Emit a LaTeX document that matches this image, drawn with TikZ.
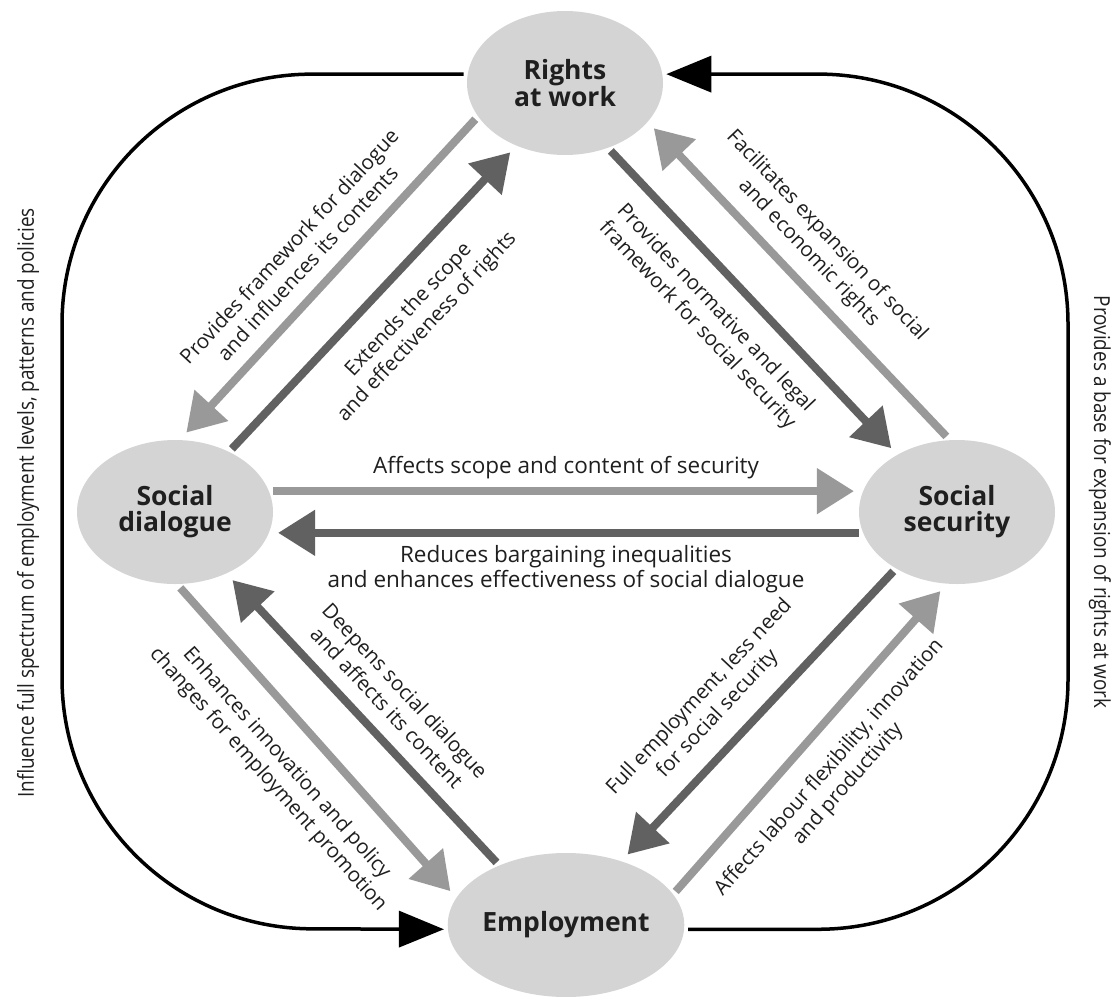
\documentclass[tikz,border=0pt]{standalone}
\usepackage{fontspec}
\setmainfont{Open Sans}
\newfontfamily\narrowsans[FakeStretch=0.86]{Open Sans}
\usetikzlibrary{arrows.meta, shapes.geometric, positioning}

\definecolor{bubblegray}{gray}{0.83}
\definecolor{arrowlight}{gray}{0.6}
\definecolor{arrowdark}{gray}{0.38}
\definecolor{inkgray}{gray}{0.12}

\begin{document}
\begin{tikzpicture}[
                x = 1pt, y = -1pt, % page units, y runs downwards
                > = {Triangle[length=37pt, width=44pt]}, % arrow head style
                shorten > = 5pt,
                line width = 8pt, % arrow shafts
                font = \fontsize{20.5}{25}\selectfont
                ]
                \tikzstyle{bubble}=[
                    ellipse,
                    fill = bubblegray,
                    minimum width = 196pt,
                    minimum height = 144pt,
                    inner sep = 0pt,
                    align = center,
                    text = inkgray,
                    font = \fontsize{26.5}{26}\selectfont\bfseries
                ]
                \tikzstyle{light}=[->, draw = arrowlight]
                \tikzstyle{dark}=[->, draw = arrowdark]
                \tikzstyle{lab}=[sloped, align=center, inner sep=0pt, text=inkgray]
                \tikzstyle{flat}=[align=center, inner sep=0pt, text=inkgray, font=\fontsize{22.5}{25}\selectfont]
                \tikzstyle{rail}=[-{Triangle[length=45pt, width=36pt]}, shorten > = 0pt,
                    line width=3.5pt, rounded corners=250pt]
                \tikzstyle{side}=[inner sep=0pt, text=inkgray, font=\narrowsans\fontsize{22}{25}\selectfont]

                \fill[white] (0,0) rectangle (1113,996);
                \useasboundingbox (0,0) rectangle (1113,996);

                % the four pillars
                \node[bubble] (rights) at (565,83) {Rights\\at work};
                \node[bubble] (dialogue) at (175,512) {Social\\dialogue};
                \node[bubble] (security) at (957,512) {Social\\security};
                \node[bubble] (employment) at (566,925) {Employment};

                % outer loop, one corner coordinate per side
                \coordinate (westrail) at (62,928);
                \coordinate (eastrail) at (1068,74);
                \draw[rail] (rights.175) -| (westrail) -- (employment.182);
                \draw[rail] (employment.358) -| (eastrail) -- (rights.5);

                \node[side, rotate=90] (influence) at (28,503)
                {Influence full spectrum of employment levels, patterns and policies};
                \node[side, rotate=-90] (base) at (1100,502)
                {Provides a base for expansion of rights at work};

                % rights <-> dialogue
                \path (rights.202) edge[light]
                node[lab, above=14pt, pos=0.51] {Provides framework for dialogue\\
                and influences its contents} (dialogue.84);

                \path (dialogue.48) edge[dark]
                node[lab, below=20pt, pos=0.54] {Extends the scope\\
                and effectiveness of rights} (rights.232);

                % rights <-> security
                \path (rights.304) edge[dark]
                node[lab, below=18pt, pos=0.45] {Provides normative and legal\\
                framework for social security} (security.136);

                \path (security.98) edge[light]
                node[lab, above=12pt, pos=0.53] {Facilitates expansion of social\\
                and economic rights} (rights.334);

                % dialogue <-> security
                \path (dialogue.12) edge[light]
                node[flat, above=8pt] {Affects scope and content of security} (security.168);

                \path (security.192) edge[dark]
                node[flat, below=9pt] {Reduces bargaining inequalities\\
                and enhances effectiveness of social dialogue} (dialogue.348);

                % dialogue <-> employment
                \path (dialogue.274) edge[light]
                node[lab, below=23pt, pos=0.49] {Enhances innovation and policy\\
                changes for employment promotion} (employment.165);

                \path (employment.138) edge[dark]
                node[lab, above=14pt, pos=0.48] {Deepens social dialogue\\
                and affects its content} (dialogue.310);

                % security <-> employment
                \path (security.223) edge[dark]
                node[lab, above=16pt, pos=0.57] {Full employment, less need\\
                for social security} (employment.49);

                \path (employment.17) edge[light]
                node[lab, below=19pt, pos=0.48] {Affects labour flexibility, innovation\\
                and productivity} (security.260);
            \end{tikzpicture}
\end{document}
